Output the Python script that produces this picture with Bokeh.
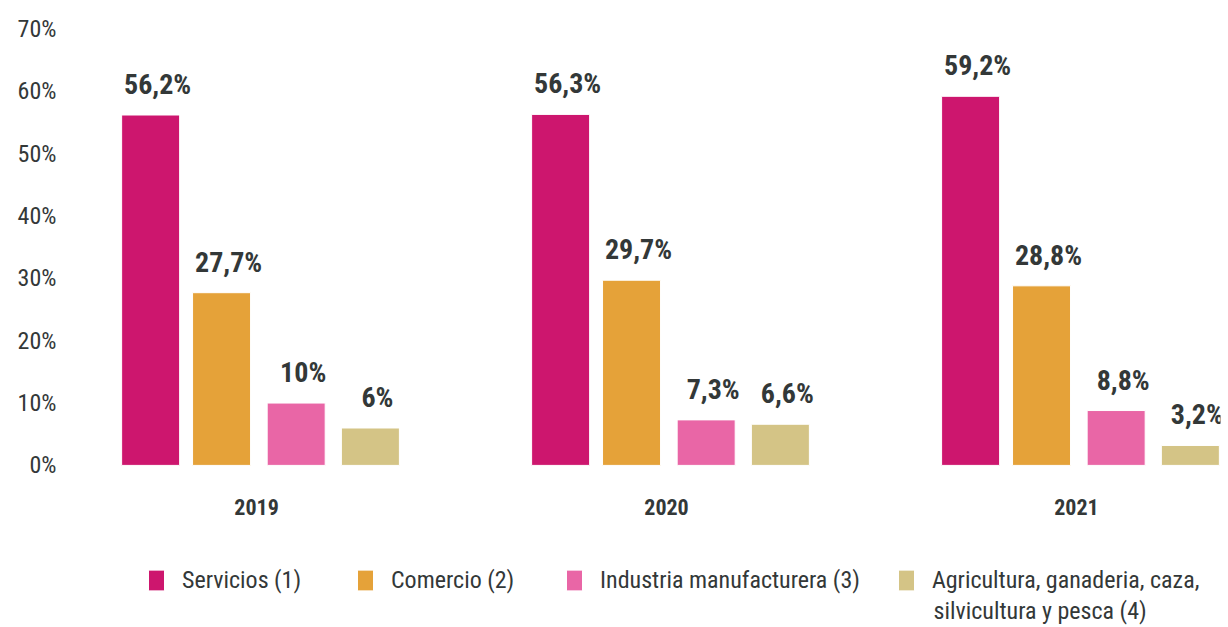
from bokeh.plotting import figure
from bokeh.models import (FactorRange, Range1d, ColumnDataSource, Legend, LegendItem,
                          FixedTicker, PrintfTickFormatter, Label)
from bokeh.transform import dodge
from bokeh.core.properties import value
from bokeh.embed import file_html
from bokeh.resources import INLINE

years = ["2019", "2020", "2021"]
sectors = ["Servicios (1)", "Comercio (2)", "Industria manufacturera (3)",
           "Agricultura, ganaderia, caza,", "silvicultura y pesca (4)"]
servicios = [56.2, 56.3, 59.2]
comercio = [27.7, 29.7, 28.8]
industria = [10.0, 7.3, 8.8]
agricultura = [6.0, 6.6, 3.2]
y_ticks = [0, 10, 20, 30, 40, 50, 60, 70]

colors = ["#CD166E", "#E5A239", "#E966A6", "#D4C486"]
offsets = [-0.268, -0.095, 0.087, 0.268]
FONT = "'Liberation Sans Narrow', 'Roboto Condensed', Roboto, sans-serif"
TXT = "#333838"


def fmt(v):
    s = ("%.1f" % v).replace(".", ",")
    if s.endswith(",0"):
        s = s[:-2]
    return s + "%"


series = [servicios, comercio, industria, agricultura]
data = {"year": years, "zero": [0] * len(years)}
for i, s in enumerate(series):
    data["v%d" % i] = s
    data["l%d" % i] = [fmt(v) for v in s]
src = ColumnDataSource(data)

p = figure(x_range=FactorRange(*years, range_padding=-0.1585, range_padding_units="absolute"),
           y_range=Range1d(-26, 72),
           width=1228, height=627, output_backend="svg", toolbar_location=None,
           min_border_left=120, min_border_right=8, min_border_top=16, min_border_bottom=0)
p.outline_line_color = None
p.xgrid.grid_line_color = None
p.ygrid.grid_line_color = None
p.xaxis.visible = False
p.background_fill_color = "white"

renderers = []
for i in range(4):
    r = p.vbar(x=dodge("year", offsets[i], range=p.x_range), top="v%d" % i, width=0.1415,
               source=src, fill_color=colors[i], line_color="white", line_width=1)
    renderers.append(r)
    p.text(x=dodge("year", offsets[i], range=p.x_range), y="v%d" % i, text="l%d" % i,
           source=src, text_align="center", text_baseline="bottom",
           x_offset=7, y_offset=-14, text_font=value(FONT), text_font_style="bold",
           text_font_size="28px", text_color=TXT)

# year (category) labels under each group
p.text(x="year", y="zero", text="year", source=src, text_align="center",
       text_baseline="middle", x_offset=-4, y_offset=42, text_font=value(FONT),
       text_font_style="bold", text_font_size="22px", text_color=TXT)

p.yaxis.ticker = FixedTicker(ticks=y_ticks)
p.yaxis.formatter = PrintfTickFormatter(format="%d%%")
p.yaxis.axis_line_color = None
p.yaxis.major_tick_line_color = None
p.yaxis.minor_tick_line_color = None
p.yaxis.major_label_standoff = 58
p.yaxis.major_label_text_font = FONT
p.yaxis.major_label_text_font_size = "24px"
p.yaxis.major_label_text_color = TXT

legend = Legend(items=[LegendItem(label=sectors[i], renderers=[renderers[i]]) for i in range(4)],
                orientation="horizontal", location=(26, 33),
                glyph_width=20, glyph_height=26, label_standoff=16, spacing=36,
                label_width=137, label_text_font=FONT, label_text_font_size="24px",
                label_text_color=TXT, border_line_color=None, background_fill_alpha=0,
                padding=0, margin=0)
p.add_layout(legend, "center")

p.add_layout(Label(x=813, y=17, x_units="screen", y_units="screen", text=sectors[4],
                   text_font=FONT, text_font_size="24px", text_color=TXT,
                   text_baseline="middle", text_align="left"))

open("out.html", "w").write(file_html(p, INLINE))
